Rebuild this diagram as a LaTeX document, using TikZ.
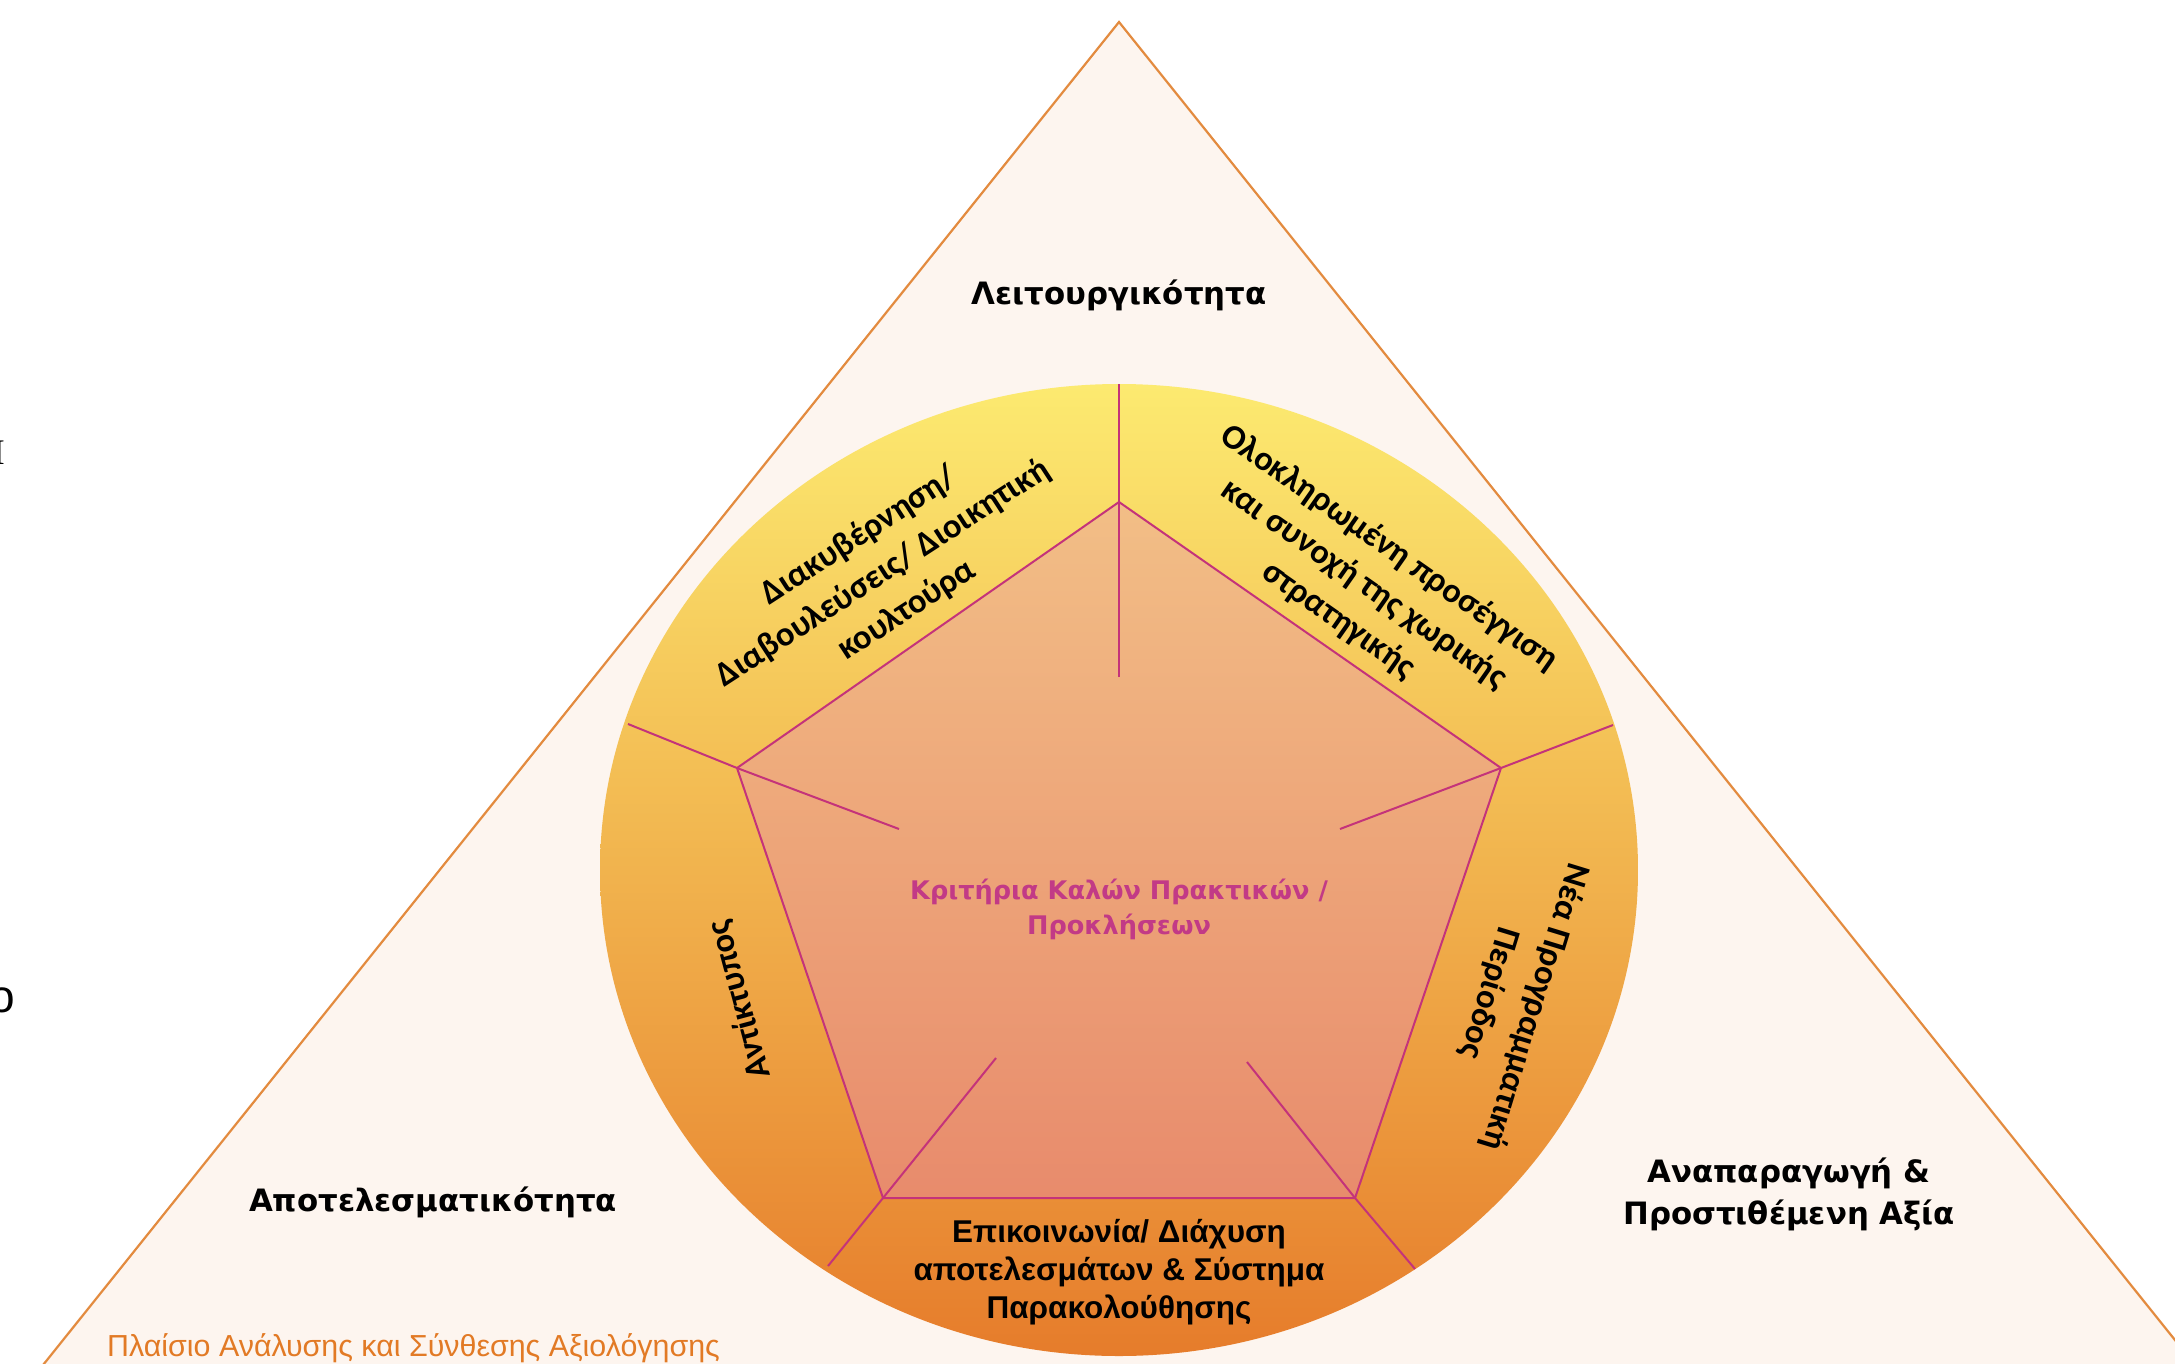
\documentclass[tikz,border=0pt]{standalone}
\usepackage{fontspec}
\setmainfont{Liberation Sans}
\newfontfamily\carl{Carlito}
\newfontfamily\dejavu{DejaVu Sans}
\newfontfamily\serifI{Liberation Serif}
\definecolor{trifill}{HTML}{FDF5EF}
\definecolor{tristroke}{HTML}{E38B3F}
\definecolor{ytop}{HTML}{FCEA70}
\definecolor{omid}{HTML}{F0B24A}
\definecolor{obot}{HTML}{E67C2B}
\definecolor{ptop}{HTML}{F2BE86}
\definecolor{pbot}{HTML}{E88B6C}
\definecolor{plinecol}{HTML}{C4337A}
\definecolor{magtext}{HTML}{C23A86}
\definecolor{orangetext}{HTML}{E27A25}
\tikzset{
  pline/.style={draw=plinecol, line width=2pt},
  biglabel/.style={font=\dejavu\fontsize{30.8}{42}\selectfont\bfseries, text=black, align=center, inner sep=0pt},
  arclabel/.style={font=\carl\fontsize{34.5}{44}\selectfont\bfseries, text=black, align=center, inner sep=0pt},
  botlabel/.style={font=\fontsize{31.5}{38}\selectfont\bfseries, text=black, align=center, inner sep=0pt},
}
\begin{document}
\begin{tikzpicture}[x=1pt,y=-1pt]
\useasboundingbox (0,0) rectangle (2175,1364);
\fill[white] (0,0) rectangle (2175,1364);
% triangle
\coordinate (apex) at (1119,22);
\coordinate (bl) at (15,1400);
\coordinate (br) at (2223,1400);
\fill[trifill] (bl) -- (apex) -- (br) -- cycle;
\draw[tristroke, line width=2.2pt, line join=miter] (bl) -- (apex) -- (br);
% ellipse
\shade[top color=ytop, middle color=omid, bottom color=obot] (1119,870) ellipse [x radius=519pt, y radius=486pt];
% pentagon
\coordinate (pt) at (1119,502);
\coordinate (pur) at (1501,768);
\coordinate (plr) at (1355,1198);
\coordinate (pll) at (883,1198);
\coordinate (pul) at (737,768);
\shade[top color=ptop, bottom color=pbot] (pt) -- (pur) -- (plr) -- (pll) -- (pul) -- cycle;
\draw[pline, line join=miter] (pt) -- (pur) -- (plr) -- (pll) -- (pul) -- cycle;
% spokes
\coordinate (it) at (1119,677);  \coordinate (ot) at (1119,384);
\coordinate (iul) at (899,829);  \coordinate (oul) at (628,724);
\coordinate (iur) at (1340,829); \coordinate (our) at (1613,725);
\coordinate (ill) at (996,1058); \coordinate (oll) at (828,1266);
\coordinate (ilr) at (1247,1062);\coordinate (olr) at (1415,1269);
\draw[pline] (it) -- (pt) -- (ot);
\draw[pline] (iul) -- (pul) -- (oul);
\draw[pline] (iur) -- (pur) -- (our);
\draw[pline] (ill) -- (pll) -- (oll);
\draw[pline] (ilr) -- (plr) -- (olr);
% outer labels
\node[biglabel] (lei) at (1119,295) {Λειτουργικότητα};
\node[biglabel] (apo) at (433,1202) {Αποτελεσματικότητα};
\node[biglabel] (ana) at (1789,1194) {Αναπαραγωγή \&\\Προστιθέμενη Αξία};
% centre
\node[font=\dejavu\fontsize{25.6}{35}\selectfont\bfseries, text=magtext, align=center, inner sep=0pt] (kri) at (1119,909) {Κριτήρια Καλών Πρακτικών /\\Προκλήσεων};
% ring labels
\node[arclabel, rotate=33] (dia) at (883,573) {Διακυβέρνηση/\\Διαβουλεύσεις/ Διοικητική\\κουλτούρα};
\node[arclabel, rotate=-35] (olo) at (1364,584) {Ολοκληρωμένη προσέγγιση\\και συνοχή της χωρικής\\στρατηγικής};
\node[arclabel, rotate=-107, font=\carl\fontsize{34.5}{48}\selectfont\bfseries] (nea) at (1512,1000) {Νέα Προγραμματική\\Περίοδος};
\node[arclabel, rotate=105] (ant) at (740,1000) {Αντίκτυπος};
\node[botlabel] (epi) at (1119,1272) {Επικοινωνία/ Διάχυση\\αποτελεσμάτων \& Σύστημα\\Παρακολούθησης};
% caption
\node[font=\fontsize{30.4}{32}\selectfont, text=orangetext, anchor=west, inner sep=0pt] (cap) at (107,1348) {Πλαίσιο Ανάλυσης και Σύνθεσης Αξιολόγησης};
% cut-off fragments at left edge
\node[font=\serifI\fontsize{36}{40}\selectfont, anchor=east, inner sep=0pt] (fr1) at (5,453) {Ι};
\node[font=\fontsize{46}{50}\selectfont, anchor=east, inner sep=0pt] (fr2) at (15,1000) {ο};
\end{tikzpicture}
\end{document}
